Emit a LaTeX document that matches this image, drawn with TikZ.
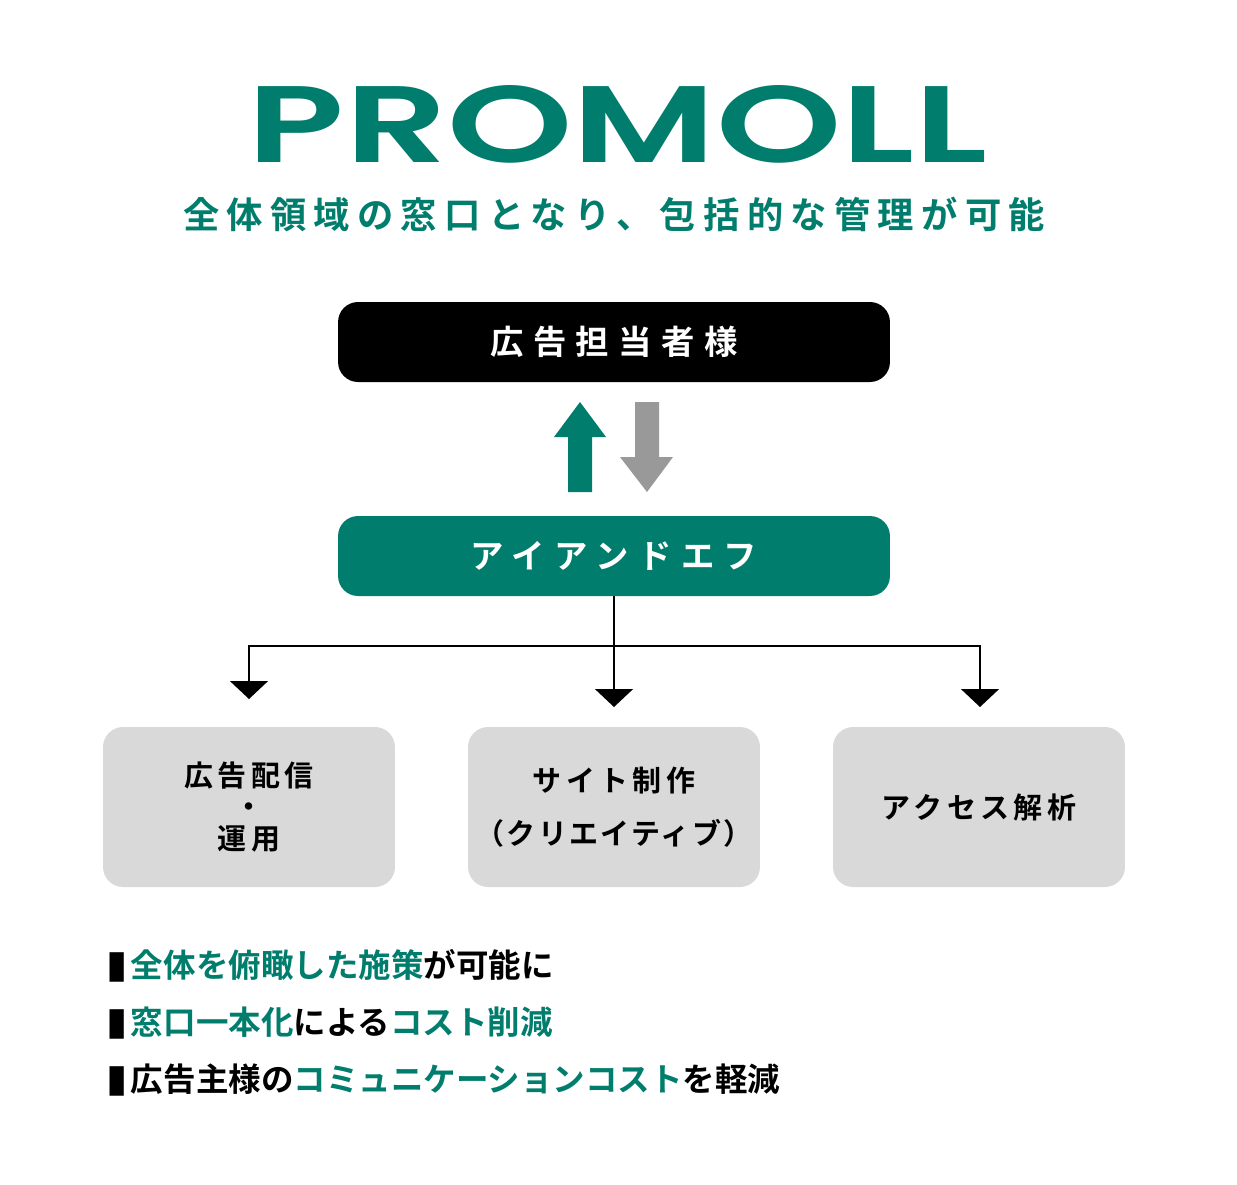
\documentclass[tikz,border=0pt]{standalone}
\usepackage{fontspec}
\setmainfont{Noto Sans CJK JP}[BoldFont={* Bold}]
\newfontfamily\logofont{Poppins}[BoldFont={* SemiBold}]
\newfontfamily\symfont{DejaVu Sans}
\usetikzlibrary{positioning,arrows.meta}
\definecolor{pgreen}{HTML}{007D6C}
\definecolor{pgray}{HTML}{D9D9D9}
\definecolor{parrow}{HTML}{999999}
\newcommand{\gr}[1]{\textcolor{pgreen}{#1}}
\newcommand{\mybar}{{\symfont\fontsize{22}{22}\selectfont ▮}\hspace{2pt}}
\tikzset{
  topbox/.style={rounded corners=0.4cm, minimum width=11.04cm, minimum height=1.6cm, text=white, font=\bfseries\fontsize{19}{22}\selectfont\addfontfeature{LetterSpace=28}},
  jobbox/.style={fill=pgray, rounded corners=0.4cm, minimum width=5.84cm, minimum height=3.2cm, inner xsep=0pt, align=center, font=\bfseries\fontsize{16.5}{18}\selectfont\addfontfeature{LetterSpace=15}},
  feed/.style={-{Triangle[width=0.76cm,length=0.36cm]}, line width=0.8pt},
  bullet/.style={anchor=west, font=\bfseries\fontsize{18.5}{20}\selectfont}
}
\begin{document}
\begin{tikzpicture}[x=0.02cm,y=-0.02cm]
\useasboundingbox (0,0) rectangle (1237,1184);
% title
\node (logo) at (618,124) {\resizebox{14.8cm}{1.54cm}{\logofont\bfseries\color{pgreen}PROMOLL}};
\node (sub) at (614,214) {\resizebox{17.24cm}{!}{\bfseries\color{pgreen}\addfontfeature{LetterSpace=20}全体領域の窓口となり、包括的な管理が可能}};
% client and agency
\node[topbox, fill=black] (client) at (614,342) {広告担当者様};
\node[topbox, fill=pgreen] (agency) at (614,556) {アイアンドエフ};
% up / down arrows
\fill[pgreen] (568,492) -- (592,492) -- (592,437) -- (606,437) -- (580,402) -- (554,437) -- (568,437) -- cycle;
\fill[parrow] (635,402) -- (659,402) -- (659,457) -- (673,457) -- (647,492) -- (620,457) -- (635,457) -- cycle;
% services
\node[jobbox] (ads) at (249,807) {広告配信\\・\\運用};
\node[jobbox] (site) at (614,807) {サイト制作\\[12pt]{\addfontfeature{LetterSpace=8}（クリエイティブ）}};
\node[jobbox] (access) at (979,807) {アクセス解析};
\coordinate (split) at (614,646);
\coordinate (tipA) at (249,699);
\coordinate (tipB) at (614,707);
\coordinate (tipC) at (980,707);
\draw[line width=0.8pt] (agency.south) -- (split);
\draw[feed] (split) -- (tipB);
\draw[feed] (split) -| (tipA);
\draw[feed] (split) -| (tipC);
% points
\node[bullet] (p1) at (100,966) {\mybar\gr{全体を俯瞰した施策}が可能に};
\node[bullet] (p2) at (100,1023) {\mybar\gr{窓口一本化}による\gr{コスト削減}};
\node[bullet] (p3) at (100,1080) {\mybar 広告主様の\gr{コミュニケーションコスト}を軽減};
\end{tikzpicture}
\end{document}
